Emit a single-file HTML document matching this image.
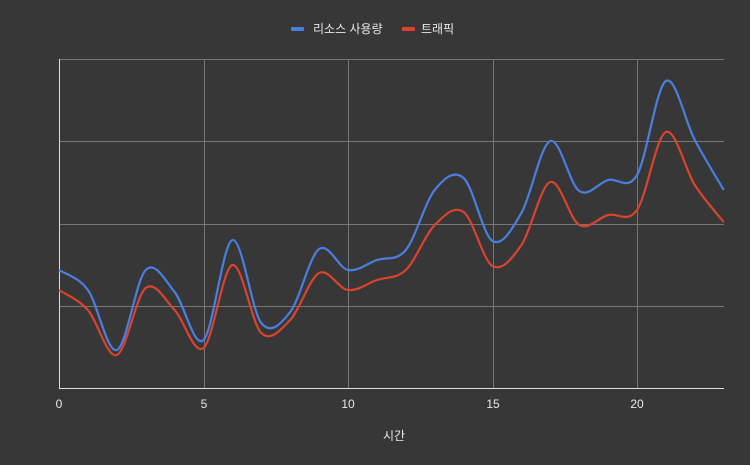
<!DOCTYPE html>
<html><head><meta charset="utf-8"><style>
body{margin:0;background:#373737;}
svg{display:block;font-family:"Liberation Sans","Noto Sans CJK KR",sans-serif;}
</style></head><body>
<svg id="s" width="750" height="465" viewBox="0 0 750 465">
<rect width="750" height="465" fill="#373737"/>
<g stroke="#777" stroke-width="1">
<line x1="59" y1="59.5" x2="724" y2="59.5"/>
<line x1="59" y1="141.5" x2="724" y2="141.5"/>
<line x1="59" y1="224.5" x2="724" y2="224.5"/>
<line x1="59" y1="306.5" x2="724" y2="306.5"/>
<line x1="204.5" y1="59" x2="204.5" y2="388"/>
<line x1="348.5" y1="59" x2="348.5" y2="388"/>
<line x1="493.5" y1="59" x2="493.5" y2="388"/>
<line x1="637.5" y1="59" x2="637.5" y2="388"/>
</g>
<line x1="59.5" y1="59" x2="59.5" y2="389" stroke="#ddd"/>
<line x1="59" y1="388.5" x2="724" y2="388.5" stroke="#ddd"/>
<g fill="#e8e8e8" font-size="12" text-anchor="middle">
<text x="59" y="408">0</text><text x="204" y="408">5</text><text x="348" y="408">10</text><text x="493" y="408">15</text><text x="637" y="408">20</text>
<text x="394" y="440">시간</text>
</g>
<rect x="291" y="27" width="13" height="4" rx="1" fill="#4a7ee0"/>
<text x="313" y="33" fill="#e8e8e8" font-size="12">리소스 사용량</text>
<rect x="402" y="27" width="13" height="4" rx="1" fill="#d9432f"/>
<text x="421" y="33" fill="#e8e8e8" font-size="12">트래픽</text>
<path id="r" fill="none" stroke="#d9432f" stroke-width="2.2"/>
<path id="b" fill="none" stroke="#4a7ee0" stroke-width="2.2"/>
</svg>
<script>
var B=[270,290,350,270,292,340,240,323,312,249,270,260,250,190,178,241,213,141,191,180,175,81,140,190];
var R=[290,310,355,288,310,348,265,333,320,273,290,280,270,225,212,266,245,182,225,215,210,132,185,222];
function p(d){var pts=d.map(function(y,i){return[59+i*28.9,y]});var s="M"+pts[0];
for(var i=0;i<pts.length-1;i++){var p0=pts[Math.max(i-1,0)],p1=pts[i],p2=pts[i+1],p3=pts[Math.min(i+2,pts.length-1)];
s+="C"+(p1[0]+(p2[0]-p0[0])/6)+","+(p1[1]+(p2[1]-p0[1])/6)+" "+(p2[0]-(p3[0]-p1[0])/6)+","+(p2[1]-(p3[1]-p1[1])/6)+" "+p2[0]+","+p2[1];}return s;}
document.getElementById("b").setAttribute("d",p(B));
document.getElementById("r").setAttribute("d",p(R));
</script>
</body></html>
